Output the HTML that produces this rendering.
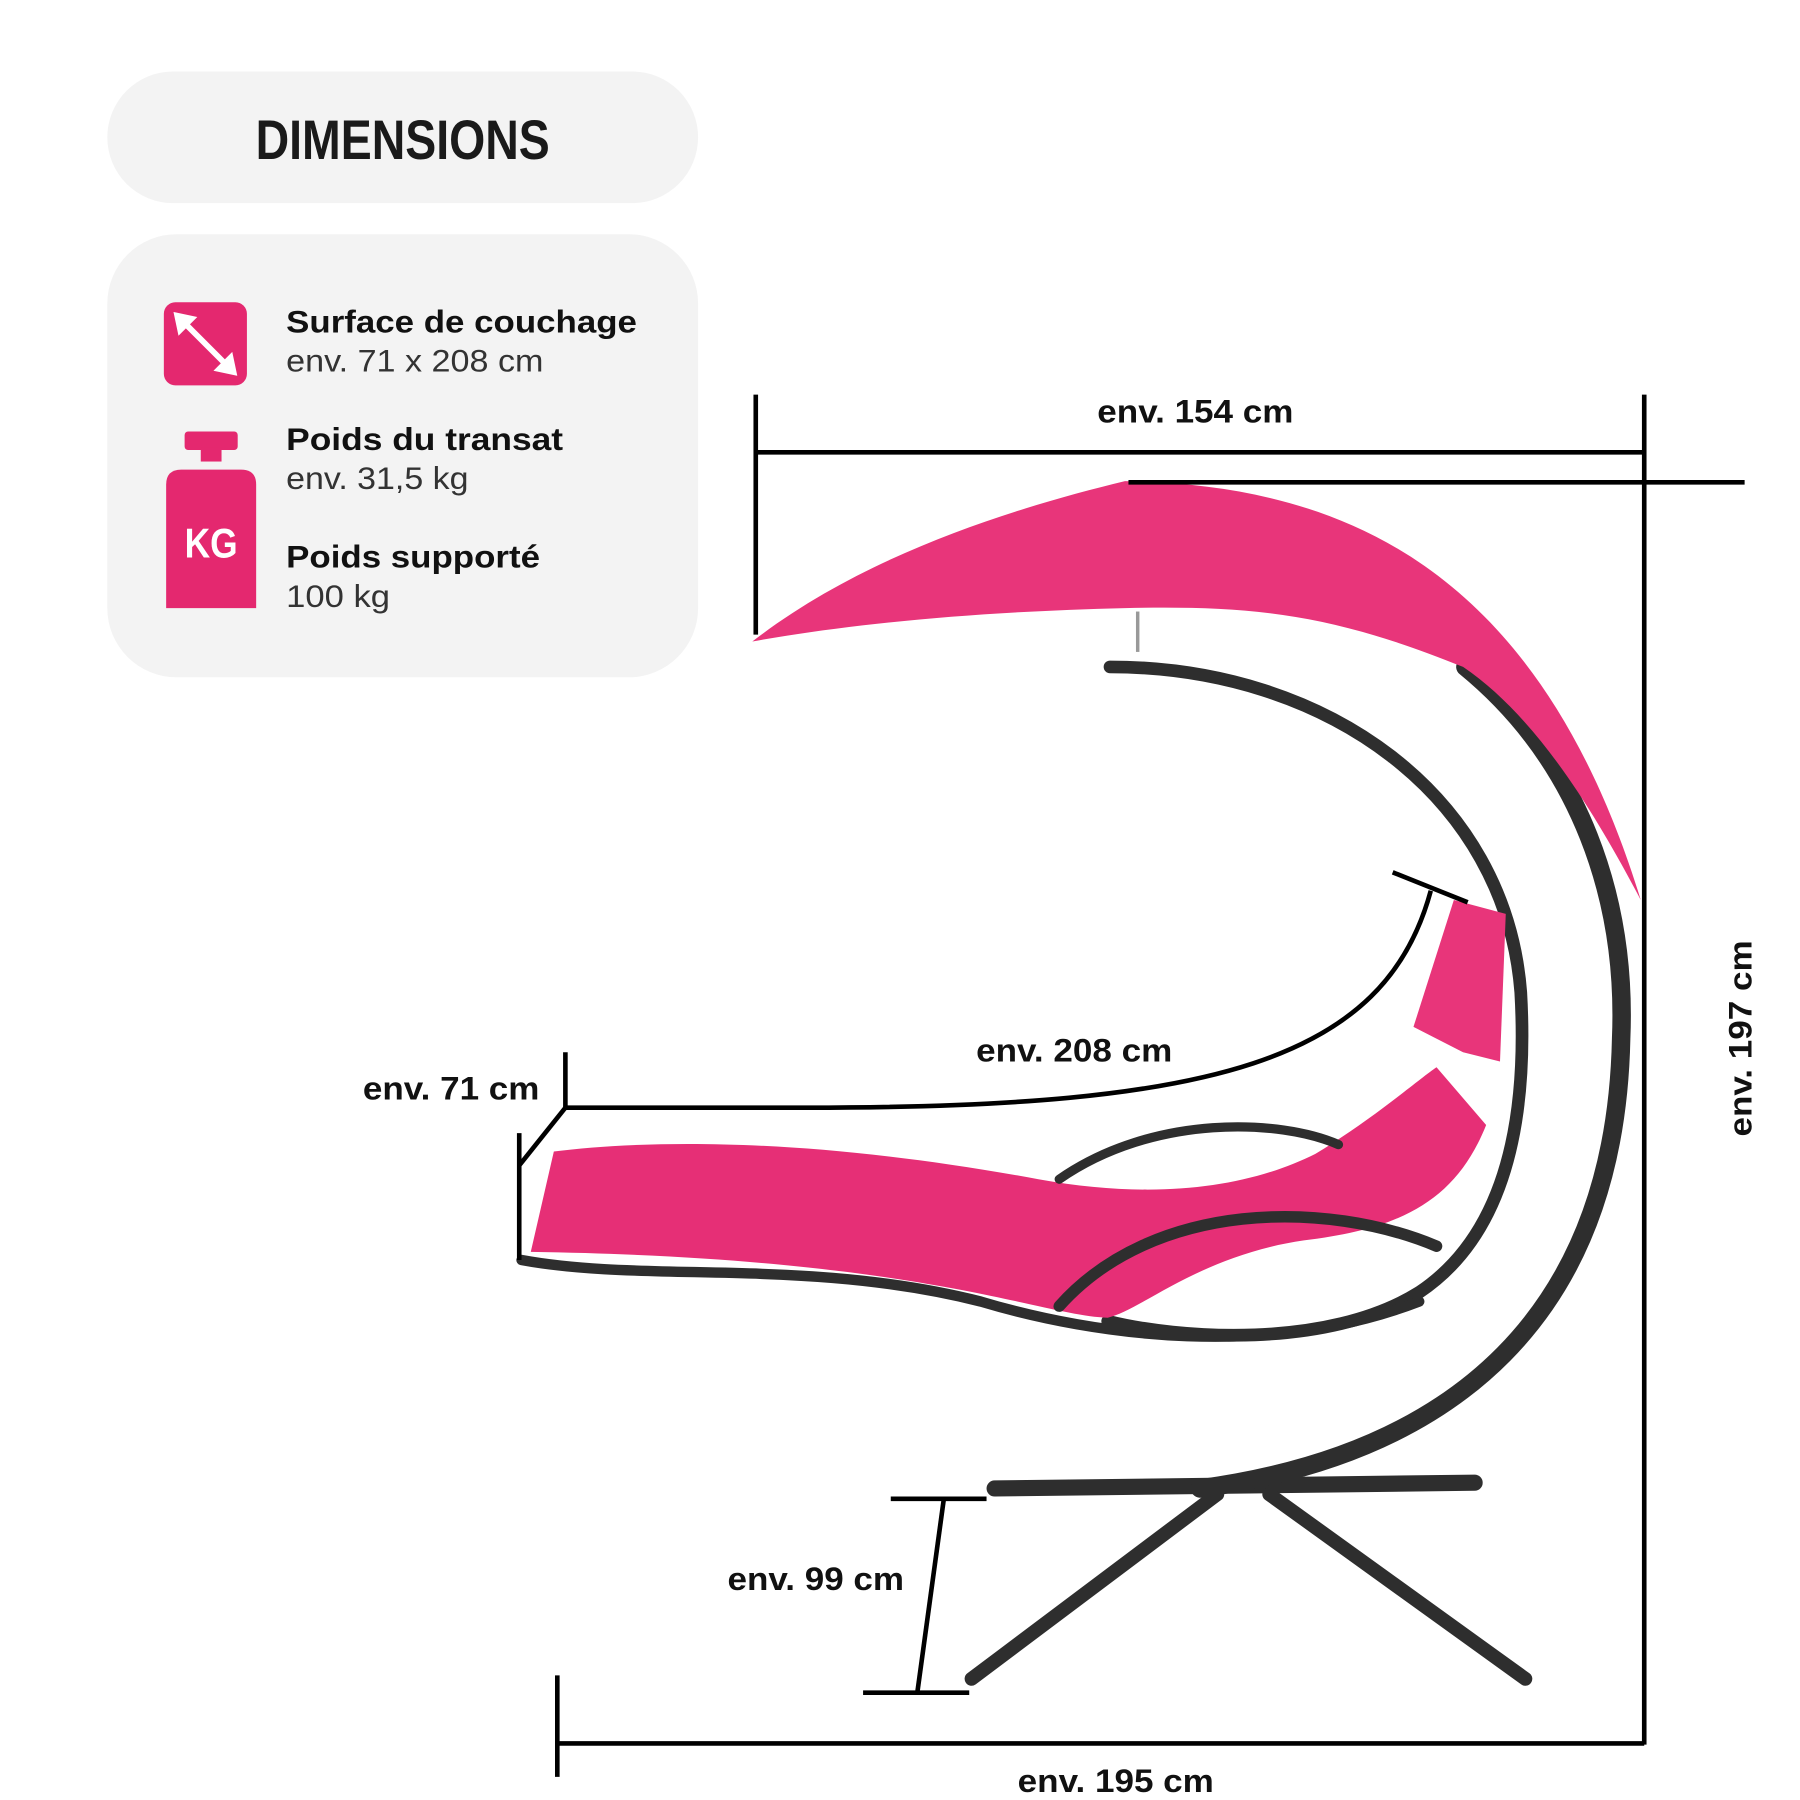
<!DOCTYPE html>
<html><head><meta charset="utf-8"><style>
html,body{margin:0;padding:0;background:#fff;}
svg{display:block;}
text{font-family:"Liberation Sans",sans-serif;}
</style></head><body>
<svg width="1800" height="1800" viewBox="0 0 1560 1560" xmlns="http://www.w3.org/2000/svg">
<rect width="1560" height="1560" fill="#fff"/>
<rect x="93" y="62" width="512" height="114" rx="57" fill="#f3f3f3"/>
<text x="349" y="138" text-anchor="middle" font-size="48" font-weight="bold" fill="#1a1a1a" textLength="255" lengthAdjust="spacingAndGlyphs">DIMENSIONS</text>
<rect x="93" y="203" width="512" height="384" rx="60" fill="#f3f3f3"/>
<rect x="142" y="262" width="72" height="72" rx="10" fill="#e4286f"/>
<g stroke="#fff" stroke-width="5" fill="#fff">
<line x1="156" y1="276" x2="200" y2="320"/>
<polygon points="151,271 170,275 155,290" stroke-width="1"/>
<polygon points="205,325 186,321 201,306" stroke-width="1"/>
</g>
<rect x="160" y="374" width="46" height="16" rx="3" fill="#e4286f"/>
<rect x="174" y="388" width="18" height="12" fill="#e4286f"/>
<path d="M144 420 Q144 407 157 407 L209 407 Q222 407 222 420 L222 527 L144 527 Z" fill="#e4286f"/>
<text x="183" y="483" text-anchor="middle" font-size="36" font-weight="bold" fill="#fff" textLength="46" lengthAdjust="spacingAndGlyphs">KG</text>
<g font-size="27" fill="#111">
<text x="248" y="288" font-weight="bold" textLength="304" lengthAdjust="spacingAndGlyphs">Surface de couchage</text>
<text x="248" y="322" fill="#333" textLength="223" lengthAdjust="spacingAndGlyphs">env. 71 x 208 cm</text>
<text x="248" y="390" font-weight="bold" textLength="240" lengthAdjust="spacingAndGlyphs">Poids du transat</text>
<text x="248" y="424" fill="#333" textLength="158" lengthAdjust="spacingAndGlyphs">env. 31,5 kg</text>
<text x="248" y="492" font-weight="bold" textLength="220" lengthAdjust="spacingAndGlyphs">Poids supporté</text>
<text x="248" y="526" fill="#333" textLength="90" lengthAdjust="spacingAndGlyphs">100 kg</text>
</g>
<g stroke="#2e2e2e" stroke-linecap="round" fill="none">
<line x1="862" y1="1290" x2="1278" y2="1285" stroke-width="14"/>
<line x1="1055" y1="1295" x2="842" y2="1455" stroke-width="12"/>
<line x1="1100" y1="1295" x2="1322" y2="1455" stroke-width="12"/>
<path d="M1270 578 C1370 660 1410 780 1405 900 C1400 1140 1260 1260 1040 1290" stroke-width="16"/>
<path d="M962 578 C1150 578 1305 690 1318 860 C1326 1000 1290 1080 1230 1120 C1150 1170 1020 1160 960 1145" stroke-width="11"/>
</g>
<path d="M480 998 C560 988 700 985 900 1022 C1000 1040 1080 1030 1140 1000 C1190 970 1230 935 1245 925 L1288 975 C1262 1040 1215 1065 1130 1075 C1040 1088 990 1135 960 1142 C900 1140 800 1090 460 1085 Z" fill="#e62f76"/>
<path d="M1225 890 L1260 780 L1305 792 L1300 920 L1268 912 Z" fill="#e8357a"/>
<g stroke="#2e2e2e" fill="none" stroke-linecap="round">
<path d="M452 1092 C560 1112 700 1090 850 1128 C950 1158 1100 1178 1230 1128" stroke-width="9"/>
<path d="M918 1022 C1000 965 1110 970 1160 992" stroke-width="8"/>
<path d="M918 1132 C1000 1040 1150 1040 1245 1080" stroke-width="10"/>
</g>
<path d="M652 556 C750 480 880 440 975 417 C1150 420 1330 480 1422 780 C1380 700 1330 620 1268 578 C1150 530 1080 525 975 527 C850 530 740 540 652 556 Z" fill="#e8357a"/>
<line x1="986" y1="530" x2="986" y2="565" stroke="#999" stroke-width="3"/>
<g stroke="#000" stroke-width="4" fill="none">
<line x1="655" y1="342" x2="655" y2="550"/>
<line x1="655" y1="392" x2="1425" y2="392"/>
<line x1="1425" y1="342" x2="1425" y2="1512"/>
<line x1="978" y1="418" x2="1512" y2="418"/>
<line x1="483" y1="1452" x2="483" y2="1540"/>
<line x1="483" y1="1511" x2="1425" y2="1511"/>
<line x1="772" y1="1299" x2="855" y2="1299"/>
<line x1="748" y1="1467" x2="840" y2="1467"/>
<line x1="818" y1="1299" x2="795" y2="1467"/>
<path d="M490 960 L700 960 C1050 960 1200 920 1240 772"/>
<line x1="1207" y1="756" x2="1272" y2="782"/>
<line x1="490" y1="912" x2="490" y2="960"/>
<line x1="490" y1="960" x2="450" y2="1010"/>
<line x1="450" y1="982" x2="450" y2="1092"/>
</g>
<g font-size="28" font-weight="bold" fill="#111" text-anchor="middle">
<text x="1036" y="366" textLength="170" lengthAdjust="spacingAndGlyphs">env. 154 cm</text>
<text x="931" y="920" textLength="170" lengthAdjust="spacingAndGlyphs">env. 208 cm</text>
<text x="391" y="953" textLength="153" lengthAdjust="spacingAndGlyphs">env. 71 cm</text>
<text x="707" y="1378" textLength="153" lengthAdjust="spacingAndGlyphs">env. 99 cm</text>
<text x="967" y="1553" textLength="170" lengthAdjust="spacingAndGlyphs">env. 195 cm</text>
<text transform="translate(1518 900) rotate(-90)" textLength="170" lengthAdjust="spacingAndGlyphs">env. 197 cm</text>
</g>
</svg>
</body></html>
